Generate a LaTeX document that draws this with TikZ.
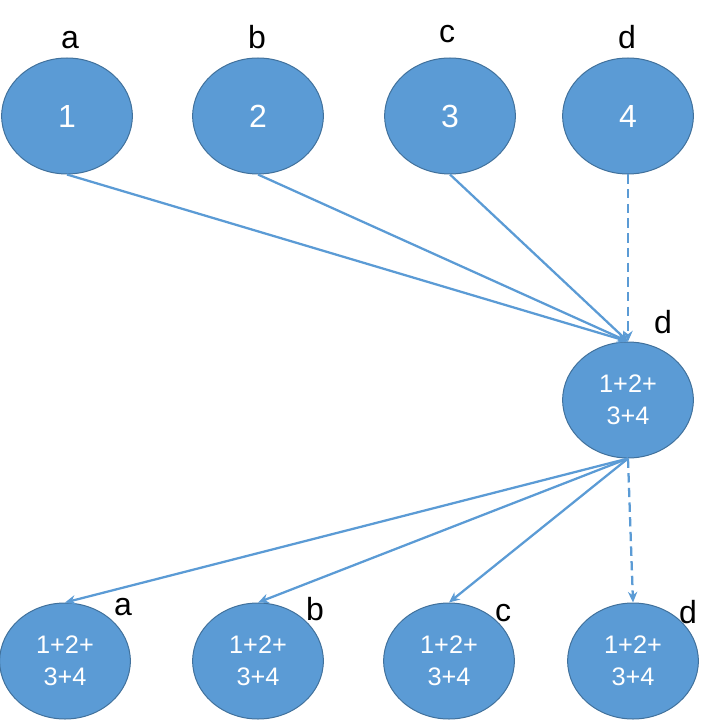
\documentclass[tikz,border=0pt]{standalone}
\usepackage{fontspec}
\setmainfont{Liberation Sans}
\usepackage{xcolor}
\usetikzlibrary{arrows.meta,positioning,shapes.geometric}
\definecolor{nodeblue}{HTML}{5B9BD5}
\definecolor{nodeedge}{HTML}{41719C}

\begin{document}
\begin{tikzpicture}[
  x=0.75pt, y=-0.75pt,
  sum/.style={ellipse, draw=nodeedge, line width=0.75pt, fill=nodeblue, minimum width=98pt, minimum height=87pt, inner sep=0pt, text=white, align=center},
  big/.style={font=\fontsize{24}{28}\selectfont},
  small/.style={font=\fontsize{19}{24}\selectfont},
  tag/.style={font=\fontsize{24}{28}\selectfont, text=black, anchor=base, inner sep=0pt},
  flow/.style={-{Stealth[length=8pt,width=7pt]}, line width=1.7pt, draw=nodeblue},
  lane/.style={flow, dash pattern=on 7pt off 4pt},
]
\useasboundingbox (0,0) rectangle (720,720);

% Inputs (one value per worker)
\node[sum, big] (n1) at (67,116) {1};
\node[sum, big] (n2) at (258,116) {2};
\node[sum, big] (n3) at (450,116) {3};
\node[sum, big] (n4) at (628,116) {4};
\node[tag] (l1) at (70,49) {a};
\node[tag] (l2) at (257,49) {b};
\node[tag] (l3) at (447,43) {c};
\node[tag] (l4) at (627,49) {d};

% Reduce onto d
\node[sum, small] (mid) at (628,400) {1+2+\\3+4};
\node[tag] (lmid) at (663,333) {d};

% Broadcast back to all
\node[sum, small] (o1) at (65,661) {1+2+\\3+4};
\node[sum, small] (o2) at (258,661) {1+2+\\3+4};
\node[sum, small] (o3) at (449,661) {1+2+\\3+4};
\node[sum, small] (o4) at (633,661) {1+2+\\3+4};
\node[tag] (lo1) at (123,615) {a};
\node[tag] (lo2) at (315,620) {b};
\node[tag] (lo3) at (503,621) {c};
\node[tag] (lo4) at (688,623) {d};

\draw[flow] (n1.south) -- (mid.north);
\draw[flow] (n2.south) -- (mid.north);
\draw[flow] (n3.south) -- (mid.north);
\draw[lane] (n4.south) -- (mid.north);

\draw[flow] (mid.south) -- (o1.north);
\draw[flow] (mid.south) -- (o2.north);
\draw[flow] (mid.south) -- (o3.north);
\draw[lane] (mid.south) -- (o4.north);

\end{tikzpicture}
\end{document}
